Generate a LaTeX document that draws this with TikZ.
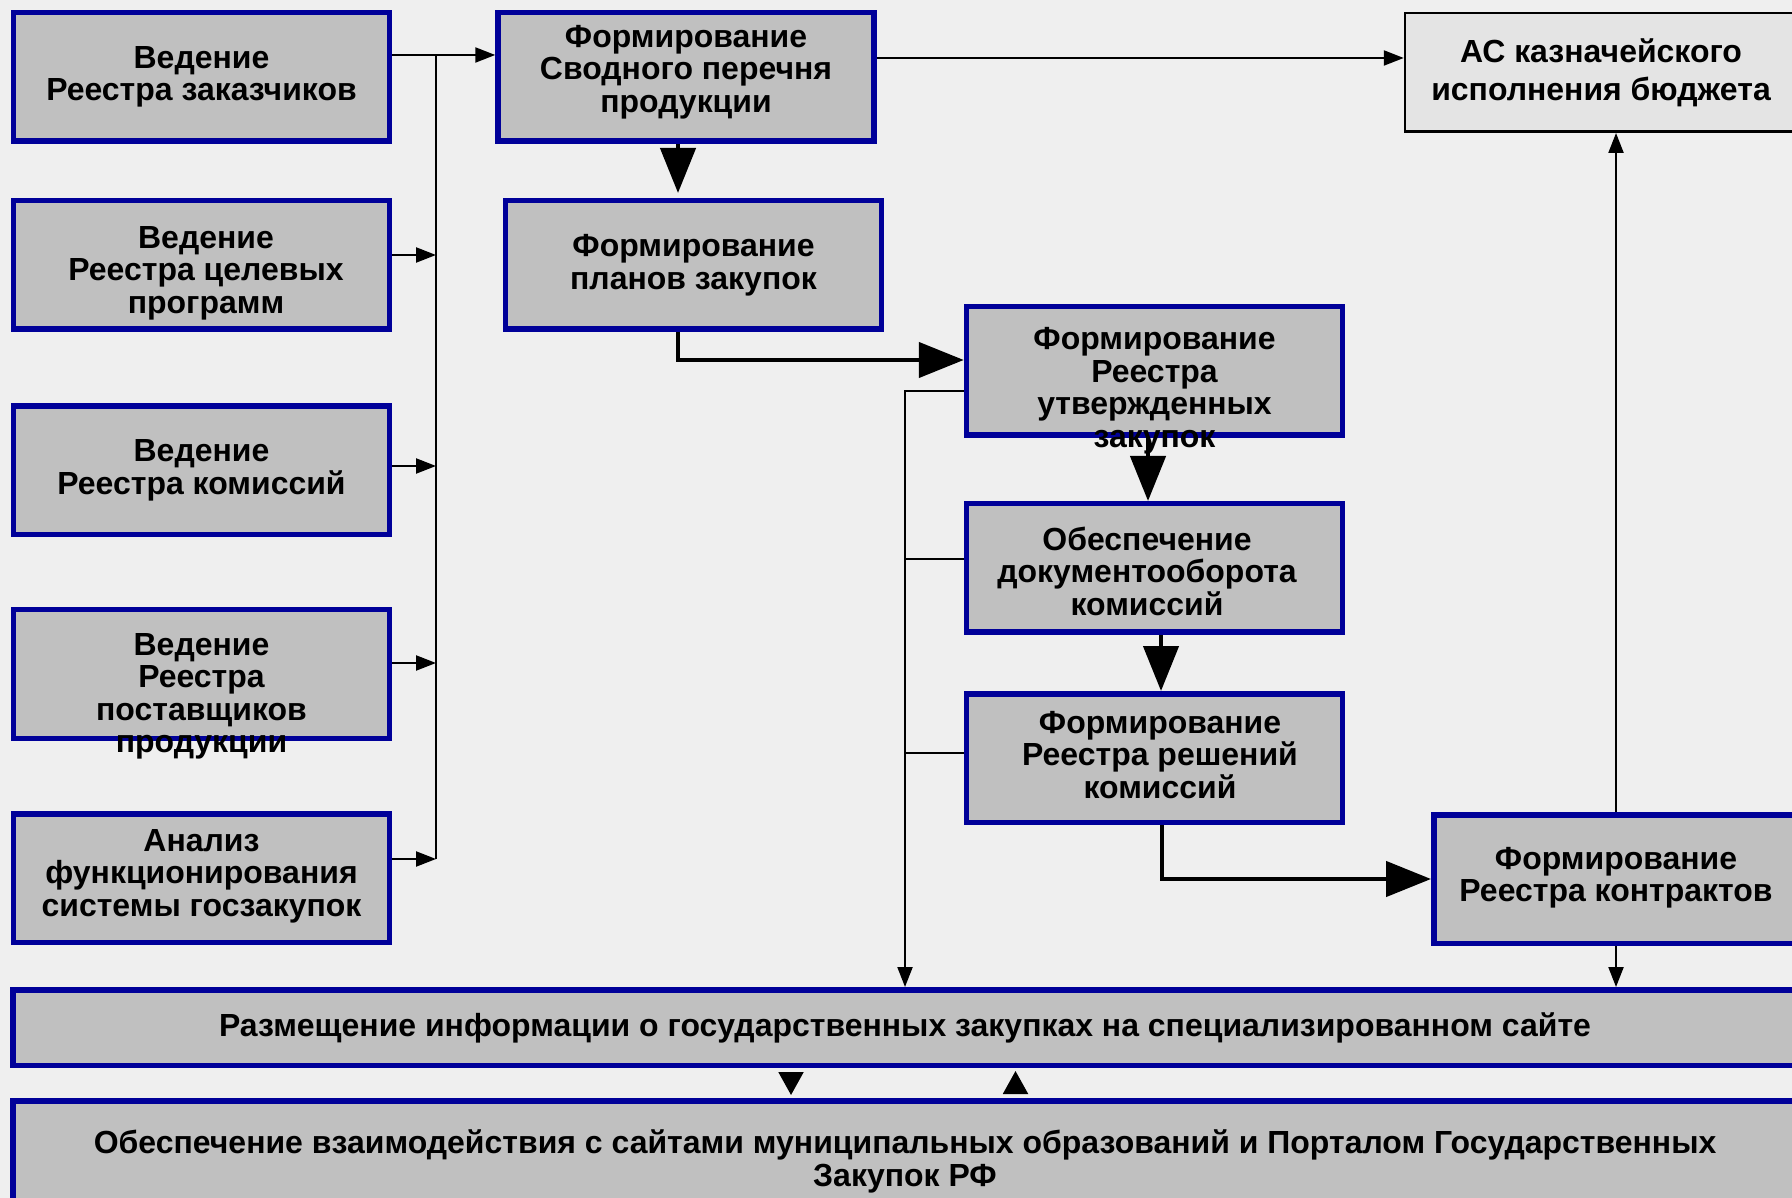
\documentclass[tikz,border=0pt]{standalone}
\usepackage{fontspec}
\setmainfont{Liberation Sans}
\usetikzlibrary{arrows.meta}
\definecolor{navy}{RGB}{0,0,153}
\definecolor{silver}{RGB}{192,192,192}
\definecolor{bgpaper}{RGB}{239,239,239}
\definecolor{lightbox}{RGB}{228,228,228}

\begin{document}
\begin{tikzpicture}[x=0.1mm,y=-0.1mm]
	\tikzstyle{blok}=[draw=navy,fill=silver,line width=0.55mm,minimum width=37.6mm,minimum height=12.85mm,inner sep=0pt];
	\tikzstyle{tekst}=[inner sep=0pt,align=center,font=\fontsize{9.1}{9.25}\selectfont\bfseries];
	\tikzstyle{tonk}=[line width=0.22mm,-{Triangle[length=2mm,width=1.5mm]}];
	\tikzstyle{tolst}=[line width=0.45mm,-{Triangle[length=4.5mm,width=3.5mm]}];
	\tikzstyle{malo}=[line width=0.2mm,-{Triangle[length=2.3mm,width=2.5mm]}];

	\useasboundingbox (0,0) rectangle (1792,1198);
	\clip (0,0) rectangle (1792,1198);
	\fill[bgpaper] (0,0) rectangle (1792,1198);

	% left column
	\node[blok] (b1) at (201.5,77)    {};
	\node[blok] (b2) at (201.5,265)   {};
	\node[blok] (b3) at (201.5,470.5) {};
	\node[blok] (b4) at (201.5,674)   {};
	\node[blok] (b5) at (201.5,878)   {};
	\node[tekst] (b1t) at (b1) {Ведение\\Реестра заказчиков};
	\node[tekst] (b2t) at ([shift={(0.45mm,-0.8mm)}]b2.center) {Ведение\\Реестра целевых\\программ};
	\node[tekst] (b3t) at (b3) {Ведение\\Реестра комиссий};
	\node[tekst] (b4t) at ([yshift=-2.25mm]b4.center) {Ведение\\Реестра\\поставщиков\\продукции};
	\node[tekst] (b5t) at ([yshift=0.2mm]b5.center) {Анализ\\функционирования\\системы госзакупок};

	% middle
	\node[blok] (b6) at (686,77)      {};
	\node[blok] (b7) at (693.5,265)   {};
	\node[blok] (b9) at (1154.5,371)  {};
	\node[blok] (b10) at (1154.5,568) {};
	\node[blok] (b11) at (1154.5,758) {};
	\node[tekst] (b6t) at ([yshift=0.5mm]b6.center) {Формирование\\Сводного перечня\\продукции};
	\node[tekst] (b7t) at (b7) {Формирование\\планов закупок};
	\node[tekst] (b9t) at ([yshift=-1.95mm]b9.center) {Формирование\\Реестра\\утвержденных\\закупок};
	\node[tekst] (b10t) at ([shift={(-0.75mm,-0.3mm)}]b10.center) {Обеспечение\\документооборота\\комиссий};
	\node[tekst] (b11t) at ([shift={(0.55mm,0.3mm)}]b11.center) {Формирование\\Реестра решений\\комиссий};

	% right
	\node[blok,draw=black,fill=lightbox,line width=0.25mm,minimum width=39.2mm,minimum height=11.85mm] (b8) at (1601,72.5) {};
	\node[blok,minimum width=36.45mm] (b12) at (1616,879) {};
	\node[tekst,font=\fontsize{9.1}{10.7}\selectfont\bfseries] (b8t) at (b8) {АС казначейского\\исполнения бюджета};
	\node[tekst] (b12t) at ([yshift=0.15mm]b12.center) {Формирование\\Реестра контрактов};

	% bottom
	\node[blok,minimum width=178.45mm,minimum height=7.55mm] (b13) at (905,1027.5) {};
	\node[blok,minimum width=178.45mm,minimum height=12.15mm] (b14) at (905,1161.5) {};
	\node[tekst] (b13t) at (b13) {Размещение информации о государственных закупках на специализированном сайте};
	\node[tekst] (b14t) at (b14) {Обеспечение взаимодействия с сайтами муниципальных образований и Порталом Государственных\\Закупок РФ};

	% bus of the left column
	\coordinate (s1) at (436,55);
	\foreach \n/\y in {2/255,3/466,4/663,5/859}
		\coordinate (s\n) at (436,\y);
	\draw[line width=0.22mm] (s1) -- (s5);
	\draw[tonk] (b1.east |- s1) -- (b6.west |- s1);
	\foreach \n in {2,...,5}
		\draw[tonk] (b\n.east |- s\n) -- (s\n);

	% thick flow
	\coordinate (p6) at ([xshift=-0.8mm]b6.south);
	\coordinate (p7) at ([xshift=-1.55mm]b7.south);
	\coordinate (q9) at ([yshift=1.1mm]b9.west);
	\coordinate (p9) at ([xshift=-0.65mm]b9.south);
	\coordinate (p10) at ([xshift=0.65mm]b10.south);
	\coordinate (p11) at ([xshift=0.75mm]b11.south);
	\draw[tolst,shorten >=0.5mm] (p6) -- (p6 |- b7.north);
	\draw[tolst] (p7) |- (q9);
	\draw[tolst] (p9) -- (p9 |- b10.north);
	\draw[tolst] (p10) -- (p10 |- b11.north);
	\draw[tolst] (p11) |- (b12.west);

	% thin links
	\coordinate (a6) at ([yshift=1.9mm]b6.east);
	\draw[tonk] (a6) -- (a6 -| b8.west);
	\draw[tonk] (b12.north) -- (b12.north |- b8.south);
	\draw[tonk] (b12.south) -- (b12.south |- b13.north);

	% second bus
	\coordinate (l9) at ([yshift=-2mm]b9.west);
	\coordinate (l10) at ([yshift=0.9mm]b10.west);
	\coordinate (l11) at ([yshift=0.5mm]b11.west);
	\draw[tonk] (l9) -| (b13.north);
	\draw[line width=0.22mm] (l10) -- (l10 -| b13.north);
	\draw[line width=0.22mm] (l11) -- (l11 -| b13.north);

	% between the two bottom boxes
	\coordinate (d13) at ([xshift=-11.4mm]b13.south);
	\coordinate (u14) at ([xshift=11.05mm]b14.north);
	\draw[malo,shorten <=1mm,shorten >=0.3mm] (d13) -- (d13 |- b14.north);
	\draw[malo,shorten <=1mm,shorten >=0.3mm] (u14) -- (u14 |- b13.south);
\end{tikzpicture}
\end{document}
